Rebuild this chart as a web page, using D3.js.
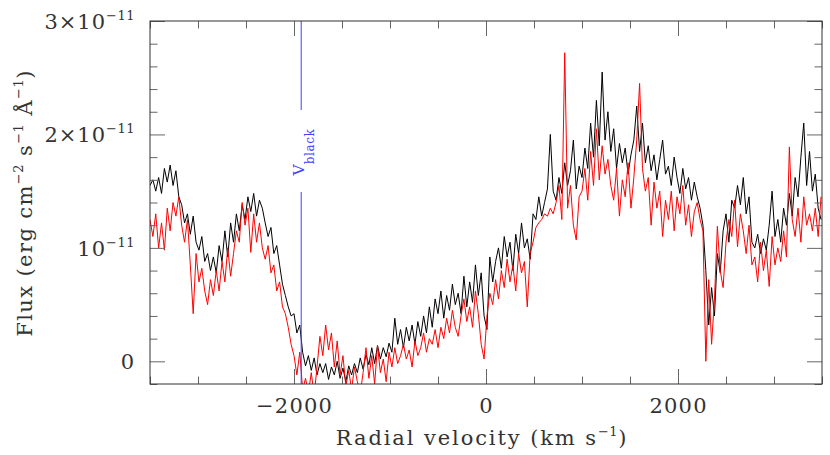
<!DOCTYPE html>
<html><head><meta charset="utf-8">
<script src="https://cdn.jsdelivr.net/npm/d3@7"></script>
<style>body{margin:0;background:#fff}</style>
</head><body><svg id="c" width="830" height="455"></svg>
<script>
// velocity grid (km/s) and flux (units of 1e-11 erg cm^-2 s^-1 A^-1)
const velocities = d3.range(-3500, 3500, 30);
const fluxBlack = [
1.55,1.60,1.50,1.62,1.48,1.70,1.58,1.73,1.55,1.68,
1.45,1.38,1.22,1.30,1.12,1.28,1.05,0.98,1.10,0.88,
0.95,0.80,0.92,0.78,1.02,0.88,1.15,0.92,1.22,1.05,
1.30,1.15,1.38,1.25,1.45,1.32,1.48,1.28,1.42,1.35,
1.22,1.10,1.18,0.95,1.02,0.85,0.68,0.58,0.48,0.40,
0.42,0.25,0.32,0.08,-0.04,0.05,-0.08,0.03,-0.12,-0.02,
-0.10,-0.02,-0.16,-0.05,-0.12,0.00,-0.15,-0.06,-0.18,-0.04,
-0.12,-0.02,-0.10,0.03,-0.07,0.06,-0.03,0.12,-0.02,0.14,
0.02,0.12,0.04,0.16,0.08,0.38,0.15,0.28,0.12,0.30,
0.18,0.32,0.15,0.35,0.22,0.40,0.25,0.48,0.30,0.55,
0.42,0.62,0.38,0.58,0.45,0.68,0.50,0.60,0.42,0.75,
0.48,0.70,0.52,0.85,0.58,0.78,0.40,0.28,0.92,0.70,
0.88,1.00,0.82,1.10,0.92,1.05,0.80,1.12,0.95,1.22,
1.00,1.08,0.90,1.30,1.25,1.45,1.28,1.40,1.52,2.00,
1.50,1.42,1.62,1.48,1.75,1.55,1.68,1.95,1.52,1.72,
1.62,1.88,1.70,2.10,1.80,2.30,1.90,2.55,1.95,2.20,
1.85,2.05,1.70,1.92,1.75,1.88,1.65,1.82,1.95,2.25,
1.85,2.10,1.75,1.90,1.68,1.82,1.60,1.78,1.95,1.65,
1.72,1.55,1.80,1.62,1.48,1.70,1.52,1.62,1.42,1.58,
1.45,1.35,1.20,0.80,0.32,0.65,0.40,0.95,0.78,1.15,
1.30,1.05,1.42,1.35,1.55,1.38,1.62,1.30,1.45,1.05,
1.00,1.12,0.95,1.08,0.98,1.20,1.50,1.10,1.25,1.05,
1.35,1.20,1.48,1.28,1.62,1.45,1.80,2.10,1.55,1.85,
1.50,1.65,1.35,1.25];
const fluxRed = [
1.25,1.10,1.30,1.00,1.22,0.98,1.35,1.15,1.40,1.28,
1.45,1.20,1.05,1.25,0.85,0.42,0.95,0.70,0.82,0.62,
0.50,0.72,0.58,0.80,0.62,0.88,0.70,1.00,0.75,0.95,
1.15,1.05,1.40,1.20,1.35,0.96,1.30,1.05,1.22,1.00,
0.90,1.02,0.78,0.85,0.62,0.70,0.48,0.42,0.30,0.15,
0.05,-0.12,0.08,-0.25,-0.15,-0.28,-0.10,-0.30,-0.05,0.22,
0.05,0.32,0.10,0.25,-0.05,0.18,-0.12,0.05,-0.22,-0.08,
-0.25,-0.05,-0.18,-0.28,-0.10,0.12,-0.15,0.05,-0.20,0.14,
-0.10,0.02,-0.18,0.08,-0.05,0.12,-0.02,0.05,0.15,0.02,
0.10,-0.05,0.18,0.05,0.12,0.25,0.08,0.20,0.15,0.28,
0.12,0.30,0.20,0.38,0.25,0.45,0.30,0.22,0.40,0.55,
0.35,0.48,0.30,0.62,0.42,0.15,0.02,0.40,0.60,0.50,
0.72,0.55,0.80,0.65,0.90,0.70,0.85,0.62,0.95,0.78,
0.88,0.48,0.95,1.05,1.18,1.22,1.25,1.30,1.28,1.35,
1.30,1.40,1.55,1.25,2.72,1.35,1.55,1.20,1.07,1.45,
1.50,1.70,1.42,1.85,1.55,2.05,1.60,1.90,1.65,1.78,
1.55,1.42,1.70,1.28,1.60,1.45,1.75,1.35,1.62,1.95,
2.45,1.70,1.50,1.62,1.20,1.58,1.35,1.50,1.10,1.42,
1.25,1.50,1.15,1.45,1.30,1.55,1.20,1.38,1.10,1.32,
1.40,1.25,1.15,0.00,0.72,0.15,0.55,1.19,0.80,0.65,
1.05,1.25,1.10,1.42,1.01,1.30,1.15,0.95,1.20,0.85,
0.92,0.70,1.05,0.80,0.98,0.66,1.10,0.85,1.00,0.88,
1.15,0.92,1.89,1.25,1.10,1.35,1.05,1.45,1.20,1.30,
1.15,1.35,1.10,1.45];
const xMajorTicks = [-2000, 0, 2000];
const xTickLabels = ["\u22122000", "0", "2000"];
const yMajorTicks = [0, 1, 2, 3];
const yTickMain = ["0", "10", "2\u00d710", "3\u00d710"];
const yTickSup = ["", "\u221211", "\u221211", "\u221211"];
const vBlack = -1925;

const L = 150, R = 822, T = 21, B = 384;
const x = d3.scaleLinear().domain([-3500, 3500]).range([L, R]);
const y = d3.scaleLinear().domain([-0.2, 3.0]).range([B, T]);
const svg = d3.select("#c");
const FONT = "'DejaVu Serif', serif";

svg.append("defs").append("clipPath").attr("id", "clip")
  .append("rect").attr("x", L).attr("y", T).attr("width", R - L).attr("height", B - T);

const g = svg.append("g").attr("clip-path", "url(#clip)");
const line = (arr) => d3.line().x((d, i) => x(velocities[i])).y(d => y(d))(arr);
g.append("path").attr("d", line(fluxBlack)).attr("fill", "none").attr("stroke", "#000").attr("stroke-width", 1);
g.append("path").attr("d", line(fluxRed)).attr("fill", "none").attr("stroke", "#ff0000").attr("stroke-width", 1);

// V_black marker
const blue = "#3f3fff";
const xb = x(vBlack);
svg.append("line").attr("x1", xb).attr("x2", xb).attr("y1", T).attr("y2", 110).attr("stroke", blue).attr("stroke-width", 1);
svg.append("line").attr("x1", xb).attr("x2", xb).attr("y1", 192).attr("y2", B).attr("stroke", blue).attr("stroke-width", 1);
const vt = svg.append("text").attr("transform", `translate(${xb + 3},152) rotate(-90)`)
  .attr("text-anchor", "middle").attr("fill", blue).attr("font-family", FONT).attr("font-size", 15.5);
vt.append("tspan").text("V");
vt.append("tspan").attr("font-size", 12).attr("letter-spacing", 0.6).attr("dy", 10).text("black");

// ticks
const minorX = d3.range(-3500, 3501, 500).filter(v => !xMajorTicks.includes(v));
const minorY = d3.range(-0.2, 3.01, 0.2).map(v => +v.toFixed(1)).filter(v => !yMajorTicks.includes(v));
const tickCol = "#666";
function ticks(axisFn, scale, vals, len, transform) {
  const a = axisFn(scale).tickValues(vals).tickSize(len).tickSizeOuter(0).tickFormat("");
  const gg = svg.append("g").attr("transform", transform).call(a);
  gg.select(".domain").remove();
  gg.selectAll("line").attr("stroke", tickCol).attr("stroke-width", 1);
}
ticks(d3.axisTop, x, xMajorTicks, 15, `translate(0,${B})`);
ticks(d3.axisTop, x, minorX, 7.5, `translate(0,${B})`);
ticks(d3.axisBottom, x, xMajorTicks, 15, `translate(0,${T})`);
ticks(d3.axisBottom, x, minorX, 7.5, `translate(0,${T})`);
ticks(d3.axisRight, y, yMajorTicks, 15, `translate(${L},0)`);
ticks(d3.axisRight, y, minorY, 7.5, `translate(${L},0)`);
ticks(d3.axisLeft, y, yMajorTicks, 15, `translate(${R},0)`);
ticks(d3.axisLeft, y, minorY, 7.5, `translate(${R},0)`);

svg.append("rect").attr("x", L).attr("y", T).attr("width", R - L).attr("height", B - T)
  .attr("fill", "none").attr("stroke", "#333").attr("stroke-width", 1);

const txtCol = "#333";
// x tick labels
svg.selectAll(".xl").data(xMajorTicks).enter().append("text")
  .attr("x", d => x(d) + 0.6).attr("y", 413).attr("text-anchor", "middle")
  .attr("font-family", FONT).attr("font-size", 21).attr("letter-spacing", 1.2).attr("fill", txtCol)
  .text((d, i) => xTickLabels[i]);
// y tick labels
yMajorTicks.forEach((v, i) => {
  const t = svg.append("text").attr("x", 135).attr("y", y(v) + 8).attr("text-anchor", "end")
    .attr("font-family", FONT).attr("font-size", 21).attr("fill", txtCol);
  t.append("tspan").attr("letter-spacing", 1).text(yTickMain[i]);
  if (yTickSup[i]) t.append("tspan").attr("font-size", 13).attr("letter-spacing", 0.5).attr("dy", -9).text(yTickSup[i]);
});
// x title
const xt = svg.append("text").attr("x", 482).attr("y", 445).attr("text-anchor", "middle")
  .attr("font-family", FONT).attr("font-size", 21).attr("letter-spacing", 1.9).attr("fill", txtCol);
xt.append("tspan").text("Radial velocity (km s");
xt.append("tspan").attr("font-size", 13).attr("letter-spacing", 0.5).attr("dy", -9).text("\u22121");
xt.append("tspan").attr("dy", 9).text(")");
// y title
const yt = svg.append("text").attr("transform", "translate(32,203) rotate(-90)").attr("text-anchor", "middle")
  .attr("font-family", FONT).attr("font-size", 21).attr("letter-spacing", 1.4).attr("fill", txtCol);
yt.append("tspan").text("Flux (erg cm");
yt.append("tspan").attr("font-size", 13).attr("letter-spacing", 0.5).attr("dy", -9).text("\u22122");
yt.append("tspan").attr("dy", 9).text(" s");
yt.append("tspan").attr("font-size", 13).attr("letter-spacing", 0.5).attr("dy", -9).text("\u22121");
yt.append("tspan").attr("dy", 9).text(" \u00c5");
yt.append("tspan").attr("font-size", 13).attr("letter-spacing", 0.5).attr("dy", -9).text("\u22121");
yt.append("tspan").attr("dy", 9).text(")");
</script></body></html>
